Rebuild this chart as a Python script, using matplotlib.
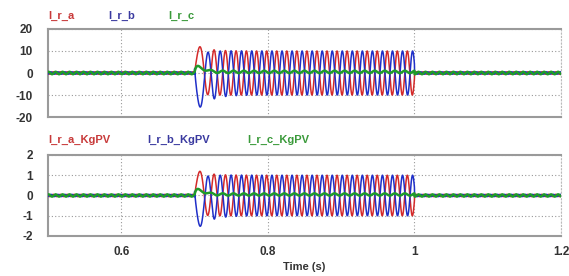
import numpy as np
import matplotlib
matplotlib.use("Agg")
import matplotlib.pyplot as plt

# ---------------- data ----------------
x_limits = [0.5, 1.2]
x_ticks = [0.6, 0.8, 1.0, 1.2]
x_tick_labels = ["0.6", "0.8", "1", "1.2"]

top_labels = ["I_r_a", "I_r_b", "I_r_c"]
bottom_labels = ["I_r_a_KgPV", "I_r_b_KgPV", "I_r_c_KgPV"]
top_yticks = [-20, -10, 0, 10, 20]
bottom_yticks = [-2, -1, 0, 1, 2]
top_ylim = [-20, 20]
bottom_ylim = [-2, 2]

fault_start = 0.7          # s
fault_end = 1.0            # s
freq_initial = 26.0        # Hz, first swing after fault
freq_steady = 73.0         # Hz, steady rotor current frequency
freq_settle = 0.02         # s
ripple_freq = 105.0        # Hz, pre/post-fault ripple

# per phase (a, b, c) -- top panel in A
top_amp_steady = [10.0, 10.0, 0.55]
top_amp_extra = [1.0, 3.0, 0.0]
top_dc_offset = [2.5, -6.5, 0.5]
top_dc_decay = [0.012, 0.014, 1e9]
top_green_bump = 2.5
top_ripple = [0.55, 0.55, 0.55]

# bottom panel (KgPV)
bot_amp_steady = [1.0, 1.0, 0.055]
bot_amp_extra = [0.1, 0.3, 0.0]
bot_dc_offset = [0.25, -0.6, 0.05]
bot_dc_decay = [0.012, 0.014, 1e9]
bot_green_bump = 0.25
bot_ripple = [0.055, 0.055, 0.055]

colors = ["#d42a2a", "#1f2fc8", "#1f9a2a"]
label_colors = ["#c83a3a", "#3a3aa0", "#3a9a3a"]

# ---------------- build waveforms ----------------
t = np.linspace(x_limits[0], x_limits[1], 14001)
tau = np.clip(t - fault_start, 0, None)
freq = freq_steady - (freq_steady - freq_initial) * np.exp(-tau / freq_settle)
theta = 2 * np.pi * np.cumsum(freq) * (t[1] - t[0])
theta -= np.interp(fault_start, t, theta)
in_fault = (t >= fault_start) & (t < fault_end)
ramp = 1 - np.exp(-tau / 0.003)


def build(amp_steady, amp_extra, dc, dc_decay, bump, ripple):
    out = []
    for k in range(3):
        amp = amp_steady[k] + amp_extra[k] * np.exp(-tau / 0.02)
        if k == 0:
            w = amp * np.sin(theta)
        elif k == 1:
            w = -amp * np.sin(theta - 0.15)
        else:
            w = amp * np.sin(theta + np.pi / 2)
        w = w + dc[k] * np.exp(-tau / dc_decay[k]) * ramp
        if k == 2:
            w = w + bump * (tau / 0.005) * np.exp(1 - tau / 0.005)
        rip = ripple[k] * np.sin(2 * np.pi * ripple_freq * t + k * 2 * np.pi / 3)
        out.append(np.where(in_fault, w, rip))
    return out


top_waves = build(top_amp_steady, top_amp_extra, top_dc_offset, top_dc_decay,
                  top_green_bump, top_ripple)
bot_waves = build(bot_amp_steady, bot_amp_extra, bot_dc_offset, bot_dc_decay,
                  bot_green_bump, bot_ripple)

# ---------------- plot ----------------
plt.rcParams['font.family'] = ['Liberation Sans', 'DejaVu Sans']
fig = plt.figure(figsize=(5.69, 2.76), dpi=100)
ax1 = fig.add_axes([0.0844, 0.576, 0.9016, 0.319])
ax2 = fig.add_axes([0.0844, 0.145, 0.9016, 0.2935])

for ax, waves, yt, yl, labels, lab_x, lab_y in [
        (ax1, top_waves, top_yticks, top_ylim, top_labels,
         [48, 108, 168], 16),
        (ax2, bot_waves, bottom_yticks, bottom_ylim, bottom_labels,
         [48, 147, 247], 140)]:
    for k in range(3):
        ax.plot(t, waves[k], color=colors[k], lw=1.8 if k == 2 else 1.1,
                zorder=3 + (k == 2))
    ax.set_xlim(x_limits)
    ax.set_ylim(yl)
    ax.set_yticks(yt)
    ax.set_yticklabels([str(v) for v in yt], fontsize=8.5, fontweight='bold',
                       color='#333333')
    ax.set_xticks(x_ticks)
    ax.grid(True, color='#999999', ls=(0, (1, 2)), lw=0.8)
    ax.tick_params(length=0, pad=11)
    for s in ['left', 'top', 'bottom']:
        ax.spines[s].set_color('#9a9a9a')
        ax.spines[s].set_linewidth(1.5)
    ax.spines['right'].set_color('#bbbbbb')
    ax.spines['right'].set_linestyle((0, (1, 2)))
    for k in range(3):
        fig.text(lab_x[k] / 569, 1 - lab_y / 276, labels[k], color=label_colors[k],
                 fontsize=8, fontweight='bold', va='center', ha='left')

ax1.set_xticklabels([])
ax2.set_xticklabels(x_tick_labels, fontsize=8.5, fontweight='bold', color='#333333')
ax2.tick_params(axis='x', pad=7)
ax2.set_xlabel("Time (s)", fontsize=8, fontweight='bold', color='#333333',
               labelpad=3)

fig.savefig("out.png", dpi=100)
